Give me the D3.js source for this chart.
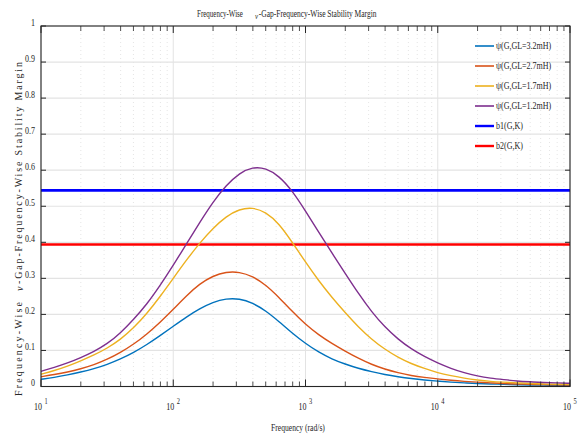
<!DOCTYPE html>
<html>
<head>
<meta charset="utf-8">
<script src="https://cdn.jsdelivr.net/npm/d3@7"></script>
<style>
  body { margin: 0; background: #fff; }
  text { font-family: "Liberation Serif", "DejaVu Serif", serif; fill: #262626; }
</style>
</head>
<body>
<svg id="chart" width="583" height="436"></svg>
<script>
// log10 of the frequency (rad/s) at each sample
const freqExp = [1.0, 1.1, 1.2, 1.3, 1.4, 1.5, 1.6, 1.7, 1.8, 1.9,
                 2.0, 2.1, 2.2, 2.3, 2.4, 2.5, 2.6, 2.7, 2.8, 2.9,
                 3.0, 3.1, 3.2, 3.3, 3.4, 3.5, 3.6, 3.7, 3.8, 3.9,
                 4.0, 4.1, 4.2, 4.3, 4.4, 4.5, 4.6, 4.7, 4.8, 4.9, 5.0];

// nu-gap frequency-wise stability margin for each line inductance
const psiGL32 = [0.020, 0.025, 0.032, 0.040, 0.049, 0.061, 0.076, 0.094, 0.116, 0.141,
                 0.167, 0.193, 0.216, 0.234, 0.244, 0.244, 0.232, 0.210, 0.180, 0.148,
                 0.119, 0.095, 0.076, 0.062, 0.050, 0.041, 0.033, 0.027, 0.022, 0.018,
                 0.015, 0.012, 0.010, 0.008, 0.007, 0.006, 0.005, 0.004, 0.004, 0.003, 0.003];
const psiGL27 = [0.027, 0.033, 0.040, 0.049, 0.060, 0.075, 0.094, 0.117, 0.145, 0.178,
                 0.214, 0.252, 0.285, 0.307, 0.318, 0.318, 0.306, 0.282, 0.247, 0.208,
                 0.172, 0.143, 0.119, 0.098, 0.078, 0.061, 0.048, 0.038, 0.030, 0.025,
                 0.021, 0.017, 0.014, 0.012, 0.010, 0.008, 0.007, 0.006, 0.005, 0.005, 0.004];
const psiGL17 = [0.034, 0.044, 0.056, 0.071, 0.087, 0.106, 0.130, 0.162, 0.202, 0.249,
                 0.300, 0.351, 0.398, 0.439, 0.472, 0.492, 0.497, 0.484, 0.452, 0.400,
                 0.345, 0.293, 0.247, 0.205, 0.165, 0.131, 0.103, 0.081, 0.063, 0.050,
                 0.038, 0.030, 0.023, 0.018, 0.014, 0.012, 0.010, 0.008, 0.007, 0.006, 0.006];
const psiGL12 = [0.042, 0.053, 0.065, 0.080, 0.097, 0.118, 0.148, 0.186, 0.228, 0.280,
                 0.336, 0.396, 0.455, 0.512, 0.558, 0.592, 0.609, 0.606, 0.584, 0.543,
                 0.487, 0.428, 0.370, 0.314, 0.258, 0.207, 0.165, 0.131, 0.104, 0.083,
                 0.065, 0.050, 0.038, 0.029, 0.023, 0.019, 0.015, 0.013, 0.011, 0.010, 0.009];

// constant stability margins
const b1Value = 0.544;
const b2Value = 0.394;

const seriesLabels = ["\u03C8(G,GL=3.2mH)", "\u03C8(G,GL=2.7mH)", "\u03C8(G,GL=1.7mH)", "\u03C8(G,GL=1.2mH)", "b1(G,K)", "b2(G,K)"];
const seriesColors = ["#0072BD", "#D95319", "#EDB120", "#7E2F8E", "#0000FF", "#FF0000"];

const yTickValues = [0, 0.1, 0.2, 0.3, 0.4, 0.5, 0.6, 0.7, 0.8, 0.9, 1];
const yTickLabels = ["0", "0.1", "0.2", "0.3", "0.4", "0.5", "0.6", "0.7", "0.8", "0.9", "1"];
const xDecades = [1e1, 1e2, 1e3, 1e4, 1e5];
const xDecadeExp = ["1", "2", "3", "4", "5"];

const svg = d3.select("#chart");
const plotL = 41, plotR = 570, plotT = 26, plotB = 386.5;

const x = d3.scaleLog().domain([1e1, 1e5]).range([plotL, plotR]);
const y = d3.scaleLinear().domain([0, 1]).range([plotB, plotT]);

// squeeze a text horizontally so it spans the given width from its anchor x
function fitWidth(sel, x0, width) {
  const w = sel.node().getComputedTextLength();
  sel.attr("transform", `translate(${x0},0) scale(${width / w},1) translate(${-x0},0)`);
}

// minor tick positions (2..9 within each decade)
const minorTicks = [];
for (let d = 0; d < xDecades.length - 1; d++) {
  for (let m = 2; m <= 9; m++) minorTicks.push(xDecades[d] * m);
}

// grid
const grid = svg.append("g");
grid.selectAll("line.minor").data(minorTicks).join("line")
  .attr("x1", d => x(d)).attr("x2", d => x(d))
  .attr("y1", plotT).attr("y2", plotB)
  .attr("stroke", "#d4d4d4").attr("stroke-width", 0.6).attr("stroke-dasharray", "1,3");
grid.selectAll("line.xmajor").data(xDecades).join("line")
  .attr("x1", d => x(d)).attr("x2", d => x(d))
  .attr("y1", plotT).attr("y2", plotB)
  .attr("stroke", "#e3e3e3").attr("stroke-width", 1);
grid.selectAll("line.ymajor").data(yTickValues).join("line")
  .attr("x1", plotL).attr("x2", plotR)
  .attr("y1", d => y(d)).attr("y2", d => y(d))
  .attr("stroke", "#e3e3e3").attr("stroke-width", 1.2);

// constant margin lines
svg.append("line")
  .attr("x1", plotL).attr("x2", plotR)
  .attr("y1", y(b1Value)).attr("y2", y(b1Value))
  .attr("stroke", seriesColors[4]).attr("stroke-width", 2.6);
svg.append("line")
  .attr("x1", plotL).attr("x2", plotR)
  .attr("y1", y(b2Value)).attr("y2", y(b2Value))
  .attr("stroke", seriesColors[5]).attr("stroke-width", 2.6);

// psi curves
const line = d3.line()
  .x((d, i) => x(Math.pow(10, freqExp[i])))
  .y(d => y(d))
  .curve(d3.curveBasis);

[psiGL32, psiGL27, psiGL17, psiGL12].forEach((s, k) => {
  svg.append("path").datum(s)
    .attr("d", line)
    .attr("fill", "none")
    .attr("stroke", seriesColors[k])
    .attr("stroke-width", 1.4);
});

// axes box and ticks
const axisColor = "#262626";
const ax = svg.append("g");
ax.append("rect")
  .attr("x", plotL).attr("y", plotT)
  .attr("width", plotR - plotL).attr("height", plotB - plotT)
  .attr("fill", "none").attr("stroke", axisColor).attr("stroke-width", 1.1);

// x ticks, bottom and top, pointing inward
ax.selectAll("line.xminB").data(minorTicks).join("line")
  .attr("x1", d => x(d)).attr("x2", d => x(d))
  .attr("y1", plotB).attr("y2", plotB - 5)
  .attr("stroke", axisColor).attr("stroke-width", 0.8);
ax.selectAll("line.xminT").data(minorTicks).join("line")
  .attr("x1", d => x(d)).attr("x2", d => x(d))
  .attr("y1", plotT).attr("y2", plotT + 5)
  .attr("stroke", axisColor).attr("stroke-width", 0.8);
ax.selectAll("line.xmajB").data(xDecades).join("line")
  .attr("x1", d => x(d)).attr("x2", d => x(d))
  .attr("y1", plotB).attr("y2", plotB - 7)
  .attr("stroke", axisColor).attr("stroke-width", 1);
ax.selectAll("line.xmajT").data(xDecades).join("line")
  .attr("x1", d => x(d)).attr("x2", d => x(d))
  .attr("y1", plotT).attr("y2", plotT + 7)
  .attr("stroke", axisColor).attr("stroke-width", 1);

// y ticks, left and right, pointing inward
ax.selectAll("line.yL").data(yTickValues).join("line")
  .attr("x1", plotL).attr("x2", plotL + 5)
  .attr("y1", d => y(d)).attr("y2", d => y(d))
  .attr("stroke", axisColor).attr("stroke-width", 1);
ax.selectAll("line.yR").data(yTickValues).join("line")
  .attr("x1", plotR).attr("x2", plotR - 5)
  .attr("y1", d => y(d)).attr("y2", d => y(d))
  .attr("stroke", axisColor).attr("stroke-width", 1);

// y tick labels
ax.selectAll("text.ylab").data(yTickValues).join("text")
  .attr("x", 35).attr("y", d => y(d))
  .attr("text-anchor", "end")
  .attr("font-size", 10)
  .attr("transform", "translate(35,0) scale(0.8,1) translate(-35,0)")
  .text((d, i) => yTickLabels[i]);

// x tick labels: 10 with superscript exponent
xDecades.forEach((d, i) => {
  const px = x(d) - 7;
  const t = ax.append("text")
    .attr("x", px).attr("y", 410)
    .attr("font-size", 10)
    .attr("transform", `translate(${px},0) scale(0.8,1) translate(${-px},0)`);
  t.append("tspan").text("10");
  t.append("tspan").attr("dx", 3).attr("dy", -6).attr("font-size", 8).text(xDecadeExp[i]);
});

// x axis label
const xLabel = svg.append("text")
  .attr("x", 271).attr("y", 431)
  .attr("font-size", 10)
  .text("Frequency (rad/s)");
fitWidth(xLabel, 271, 54);

// title: plain prefix, then the nu-gap part as one text run
const titlePre = svg.append("text")
  .attr("x", 197).attr("y", 17)
  .attr("font-size", 10)
  .text("Frequency-Wise");
fitWidth(titlePre, 197, 46);
const titleMain = svg.append("text")
  .attr("x", 255).attr("y", 17)
  .attr("font-size", 10);
titleMain.append("tspan").attr("font-style", "italic").attr("font-size", 9).attr("dy", 2).text("\u03BD");
titleMain.append("tspan").attr("dy", -2).attr("dx", 1).text("-Gap-Frequency-Wise Stability Margin");
fitWidth(titleMain, 255, 121);

// y axis label (rotated)
const yl = svg.append("g").attr("transform", "translate(22,0) rotate(-90)");
yl.append("text")
  .attr("x", -396).attr("y", 0)
  .attr("font-size", 10)
  .attr("textLength", 94).attr("lengthAdjust", "spacing")
  .text("Frequency-Wise");
yl.append("text")
  .attr("x", -291).attr("y", 1)
  .attr("font-size", 10).attr("font-style", "italic")
  .text("\u03BD");
yl.append("text")
  .attr("x", -284).attr("y", 0)
  .attr("font-size", 10)
  .attr("textLength", 222).attr("lengthAdjust", "spacing")
  .text("-Gap-Frequency-Wise Stability Margin");

// legend
const legendY = [46, 66, 86, 106, 126, 146];
const lg = svg.append("g");
seriesLabels.forEach((lab, i) => {
  lg.append("line")
    .attr("x1", 475).attr("x2", 494)
    .attr("y1", legendY[i]).attr("y2", legendY[i])
    .attr("stroke", seriesColors[i])
    .attr("stroke-width", i >= 4 ? 2.4 : 1.6);
  lg.append("text")
    .attr("x", 496).attr("y", legendY[i] + 3.5)
    .attr("font-size", 10)
    .attr("transform", "translate(496,0) scale(0.8,1) translate(-496,0)")
    .text(lab);
});
</script>
</body>
</html>
